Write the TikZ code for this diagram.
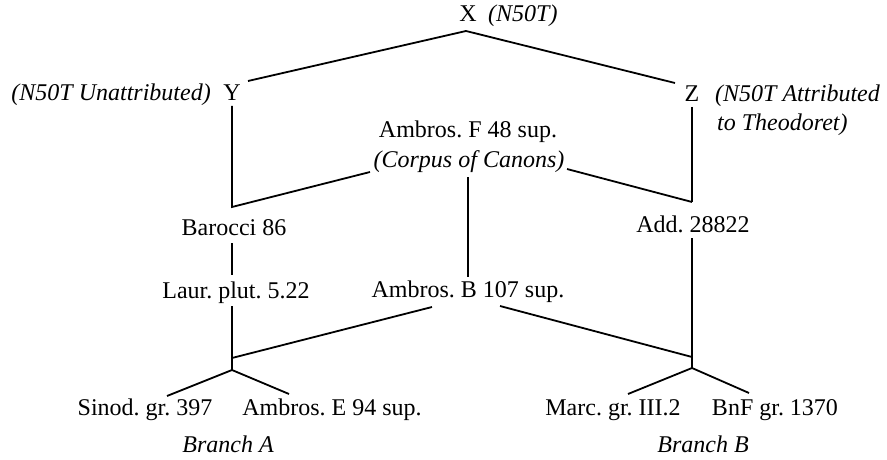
\documentclass[tikz,border=0pt]{standalone}
\usepackage{fontspec}
\setmainfont{Liberation Serif}
\frenchspacing
\begin{document}
\begin{tikzpicture}[x=1pt,y=-1pt,
  lbl/.style={anchor=base,inner sep=0pt,font=\fontsize{24}{28}\selectfont},
  ilbl/.style={lbl,font=\fontsize{24}{28}\selectfont\itshape},
  edge/.style={line width=1.8pt,line cap=butt,line join=miter}]
\useasboundingbox (0,0) rectangle (887,460);
% nodes
\node[lbl] (X) at (468,22) {X};
\node[ilbl,anchor=base west] (Xl) at (488,22) {(N50T)};
\node[lbl] (Y) at (232,100) {Y};
\node[ilbl,anchor=base east] (Yl) at (211,100) {(N50T Unattributed)};
\node[lbl] (Z) at (692,102) {Z};
\node[ilbl,anchor=base west] (Zl1) at (715,102) {(N50T Attributed};
\node[ilbl,anchor=base west] (Zl2) at (717,130) {to Theodoret)};
\node[lbl] (AF) at (468,137) {Ambros. F 48 sup.};
\node[ilbl] (AFc) at (469,167) {(Corpus of Canons)};
\node[lbl] (Bar) at (234,235) {Barocci 86};
\node[lbl] (Add) at (693,232) {Add. 28822};
\node[lbl] (Laur) at (236,298) {Laur. plut. 5.22};
\node[lbl] (AB) at (468,297) {Ambros. B 107 sup.};
\node[lbl] (Sin) at (145,415) {Sinod. gr. 397};
\node[lbl] (AE) at (332,415) {Ambros. E 94 sup.};
\node[lbl] (Marc) at (613,415) {Marc. gr. III.2};
\node[lbl] (BnF) at (775,415) {BnF gr. 1370};
\node[ilbl] (BrA) at (228,452) {Branch A};
\node[ilbl] (BrB) at (703,452) {Branch B};
% junction and end coordinates
\coordinate (xj) at (466,31);
\coordinate (yr) at (248,81);
\coordinate (zl) at (675,83);
\coordinate (yb) at (232,106);
\coordinate (bj) at (232,207);
\coordinate (cl) at (370,172);
\coordinate (cr) at (567,169);
\coordinate (zt) at (692,107);
\coordinate (zj) at (692,202);
\coordinate (bb) at (232,243);
\coordinate (lt) at (232,275);
\coordinate (lb) at (232,306);
\coordinate (am) at (232,358);
\coordinate (sa) at (232,370);
\coordinate (ft) at (468,177);
\coordinate (fb) at (468,277);
\coordinate (abl) at (432,307);
\coordinate (abr) at (500,306);
\coordinate (ab) at (692,238);
\coordinate (bm) at (692,357);
\coordinate (sb) at (692,368);
\coordinate (sinT) at (167,396);
\coordinate (aeT) at (289,394);
\coordinate (marcT) at (628,394);
\coordinate (bnfT) at (749,393);
% connectors
\draw[edge] (yr) -- (xj) -- (zl);
\draw[edge] (yb) -- (bj) -- (cl);
\draw[edge] (cr) -- (zj);
\draw[edge] (zt) -- (zj);
\draw[edge] (bb) -- (lt);
\draw[edge] (lb) -- (sa);
\draw[edge] (ft) -- (fb);
\draw[edge] (abl) -- (am);
\draw[edge] (abr) -- (bm);
\draw[edge] (ab) -- (sb);
\draw[edge] (sinT) -- (sa) -- (aeT);
\draw[edge] (marcT) -- (sb) -- (bnfT);
\end{tikzpicture}
\end{document}
